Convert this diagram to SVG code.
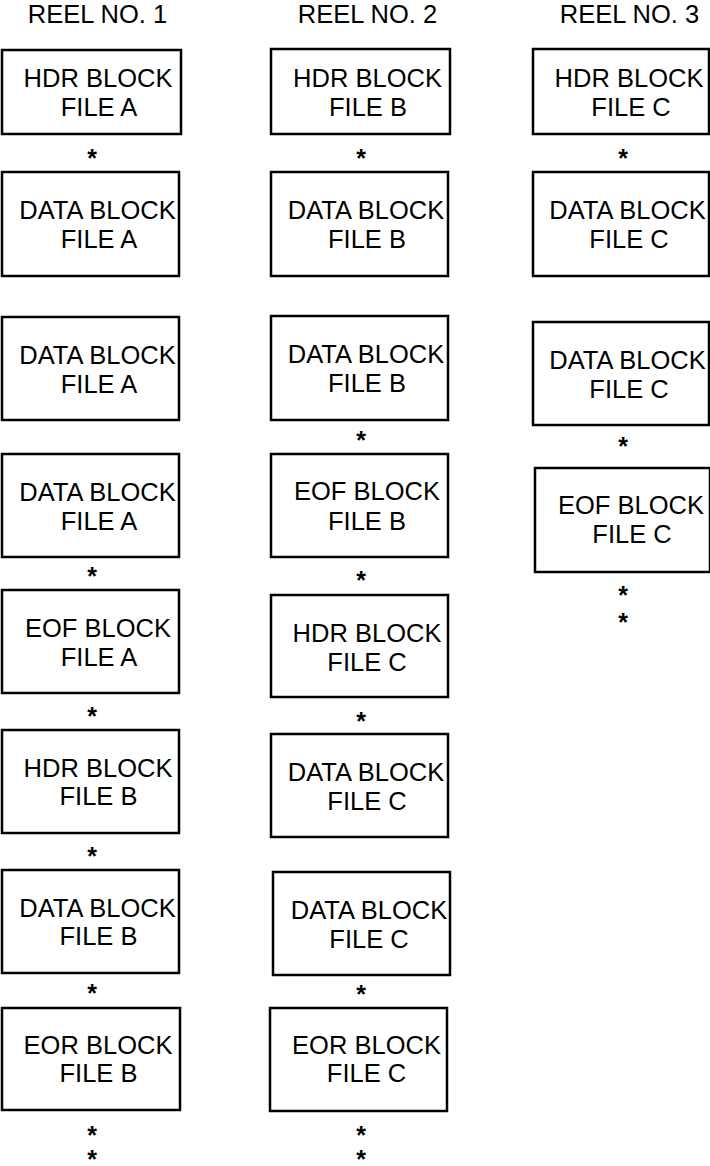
<svg xmlns="http://www.w3.org/2000/svg" width="710" height="1166" viewBox="0 0 710 1166">
  <style>
    .box { fill: #ffffff; stroke: #000000; stroke-width: 2.5; }
    text { font-family: "Liberation Sans", Arial, sans-serif; font-size: 25.5px; fill: #000000; text-anchor: middle; }
    .star { font-size: 25px; font-weight: bold; }
  </style>
  <rect width="710" height="1166" fill="#ffffff"/>

  <!-- column headings -->
  <g id="headings">
    <text x="97.5" y="23">REEL NO. 1</text>
    <text x="367.5" y="23">REEL NO. 2</text>
    <text x="629.5" y="23">REEL NO. 3</text>
  </g>

  <!-- reel 1 -->
  <g id="r1-hdr-a"><rect class="box" x="2" y="50" width="179" height="84"/><text x="98" y="87">HDR BLOCK</text><text x="99" y="116">FILE A</text></g>
  <g id="r1-data-a1"><rect class="box" x="2" y="172" width="177" height="104"/><text x="97.5" y="219">DATA BLOCK</text><text x="99" y="248">FILE A</text></g>
  <g id="r1-data-a2"><rect class="box" x="2" y="317" width="177" height="103"/><text x="97.5" y="364">DATA BLOCK</text><text x="99" y="393">FILE A</text></g>
  <g id="r1-data-a3"><rect class="box" x="2" y="454" width="177" height="103"/><text x="97.5" y="501">DATA BLOCK</text><text x="99" y="530">FILE A</text></g>
  <g id="r1-eof-a"><rect class="box" x="2" y="590" width="177" height="103"/><text x="98" y="637">EOF BLOCK</text><text x="99" y="666">FILE A</text></g>
  <g id="r1-hdr-b"><rect class="box" x="2" y="730" width="177" height="103"/><text x="98" y="777">HDR BLOCK</text><text x="98.5" y="805">FILE B</text></g>
  <g id="r1-data-b"><rect class="box" x="2" y="870" width="177" height="103"/><text x="97.5" y="917">DATA BLOCK</text><text x="98.5" y="945">FILE B</text></g>
  <g id="r1-eor-b"><rect class="box" x="2" y="1008" width="178" height="102"/><text x="98" y="1054">EOR BLOCK</text><text x="98.5" y="1082">FILE B</text></g>

  <!-- reel 2 -->
  <g id="r2-hdr-b"><rect class="box" x="271" y="49" width="179" height="85"/><text x="367.5" y="87">HDR BLOCK</text><text x="368" y="116">FILE B</text></g>
  <g id="r2-data-b1"><rect class="box" x="271" y="172" width="177" height="104"/><text x="366" y="219">DATA BLOCK</text><text x="367" y="248">FILE B</text></g>
  <g id="r2-data-b2"><rect class="box" x="271" y="316" width="177" height="104"/><text x="366" y="363">DATA BLOCK</text><text x="367" y="392">FILE B</text></g>
  <g id="r2-eof-b"><rect class="box" x="271" y="454" width="177" height="103"/><text x="367" y="500">EOF BLOCK</text><text x="367" y="530">FILE B</text></g>
  <g id="r2-hdr-c"><rect class="box" x="271" y="595" width="177" height="102"/><text x="367" y="642">HDR BLOCK</text><text x="367" y="671">FILE C</text></g>
  <g id="r2-data-c1"><rect class="box" x="271" y="734" width="177" height="103"/><text x="366" y="781">DATA BLOCK</text><text x="367" y="810">FILE C</text></g>
  <g id="r2-data-c2"><rect class="box" x="273" y="872" width="177" height="103"/><text x="369" y="919">DATA BLOCK</text><text x="369" y="948">FILE C</text></g>
  <g id="r2-eor-c"><rect class="box" x="270" y="1008" width="177" height="103"/><text x="366.5" y="1054">EOR BLOCK</text><text x="366.5" y="1082">FILE C</text></g>

  <!-- reel 3 -->
  <g id="r3-hdr-c"><rect class="box" x="533" y="49" width="176" height="85"/><text x="629" y="87">HDR BLOCK</text><text x="631" y="116">FILE C</text></g>
  <g id="r3-data-c1"><rect class="box" x="533" y="172" width="176" height="104"/><text x="627.5" y="219">DATA BLOCK</text><text x="629" y="248">FILE C</text></g>
  <g id="r3-data-c2"><rect class="box" x="533" y="322" width="176" height="103"/><text x="627.5" y="369">DATA BLOCK</text><text x="629" y="398">FILE C</text></g>
  <g id="r3-eof-c"><rect class="box" x="535" y="468" width="175" height="104"/><text x="631" y="514">EOF BLOCK</text><text x="632" y="543">FILE C</text></g>

  <!-- tape marks between blocks -->
  <g id="tape-marks">
    <text class="star" x="92" y="167">*</text>
    <text class="star" x="92" y="585">*</text>
    <text class="star" x="92" y="725">*</text>
    <text class="star" x="92" y="865">*</text>
    <text class="star" x="92" y="1002">*</text>
    <text class="star" x="92" y="1144">*</text>
    <text class="star" x="92" y="1168">*</text>

    <text class="star" x="361" y="167">*</text>
    <text class="star" x="361" y="449">*</text>
    <text class="star" x="361" y="589">*</text>
    <text class="star" x="361" y="730">*</text>
    <text class="star" x="361" y="1003">*</text>
    <text class="star" x="361" y="1144">*</text>
    <text class="star" x="361" y="1168">*</text>

    <text class="star" x="623" y="167">*</text>
    <text class="star" x="623" y="455">*</text>
    <text class="star" x="623" y="604">*</text>
    <text class="star" x="623" y="631">*</text>
  </g>
</svg>
